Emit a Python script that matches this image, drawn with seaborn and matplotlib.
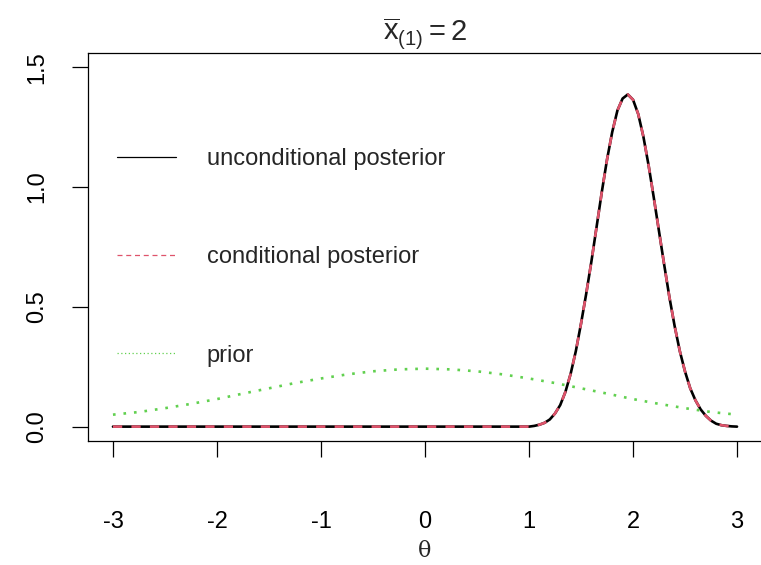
import numpy as np
import pandas as pd
import matplotlib
matplotlib.use("Agg")
import matplotlib.pyplot as plt
import seaborn as sns

# ---- data ----
theta_post = [-3.0, 1.0, 1.05, 1.1, 1.15, 1.2, 1.25, 1.3, 1.35, 1.4, 1.45, 1.5, 1.55, 1.6,
              1.65, 1.7, 1.75, 1.8, 1.85, 1.9, 1.95, 2.0, 2.05, 2.1, 2.15, 2.2, 2.25,
              2.3, 2.35, 2.4, 2.45, 2.5, 2.55, 2.6, 2.65, 2.7, 2.75, 2.8, 2.85, 2.9,
              2.95, 3.0]
uncond_post = [0.0, 0.0, 0.003, 0.008, 0.016, 0.03, 0.055, 0.09, 0.145, 0.22, 0.315, 0.43,
               0.555, 0.69, 0.835, 0.98, 1.115, 1.23, 1.32, 1.37, 1.387, 1.365, 1.305,
               1.21, 1.09, 0.955, 0.815, 0.675, 0.54, 0.42, 0.315, 0.23, 0.16, 0.11,
               0.072, 0.045, 0.025, 0.012, 0.006, 0.003, 0.001, 0.0]
cond_post = [0.0, 0.0, 0.003, 0.008, 0.016, 0.03, 0.055, 0.09, 0.145, 0.22, 0.315, 0.43,
             0.555, 0.69, 0.835, 0.98, 1.115, 1.23, 1.32, 1.37, 1.387, 1.365, 1.305,
             1.21, 1.09, 0.955, 0.815, 0.675, 0.54, 0.42, 0.315, 0.23, 0.16, 0.11,
             0.072, 0.045, 0.025, 0.012, 0.006, 0.003, 0.001, 0.0]
theta_prior = [-3.0, -2.75, -2.5, -2.25, -2.0, -1.75, -1.5, -1.25, -1.0, -0.75, -0.5, -0.25,
               0.0, 0.25, 0.5, 0.75, 1.0, 1.25, 1.5, 1.75, 2.0, 2.25, 2.5, 2.75, 3.0]
prior = [0.050, 0.061, 0.077, 0.095, 0.115, 0.138, 0.160, 0.182, 0.201, 0.218, 0.231, 0.239,
         0.242, 0.239, 0.231, 0.218, 0.201, 0.182, 0.160, 0.138, 0.115, 0.095, 0.077, 0.061, 0.050]
labels = ["unconditional posterior", "conditional posterior", "prior"]
x_ticks = [-3, -2, -1, 0, 1, 2, 3]
y_ticks = [0.0, 0.5, 1.0, 1.5]
y_tick_labels = ["0.0", "0.5", "1.0", "1.5"]

sns.set_style("white")
plt.rcParams["font.family"] = ["Liberation Sans", "DejaVu Sans"]
plt.rcParams["mathtext.fontset"] = "custom"
plt.rcParams["mathtext.rm"] = "Liberation Sans"
plt.rcParams["mathtext.it"] = "Liberation Sans:italic"

fig = plt.figure(figsize=(7.61, 5.65), dpi=100)
ax = fig.add_axes([88 / 761, 124 / 565, 674 / 761, 388 / 565])

BLACK = "#000000"
PINK = "#DF536B"
GREEN = "#61D04F"

sns.lineplot(x=theta_post, y=uncond_post, ax=ax, color=BLACK, linewidth=1.9,
             label=labels[0], estimator=None, sort=False)
sns.lineplot(x=theta_post, y=cond_post, ax=ax, color=PINK, linewidth=1.9,
             label=labels[1], estimator=None, sort=False)
ax.lines[-1].set_dashes([3.5, 3.5])
sns.lineplot(x=theta_prior, y=prior, ax=ax, color=GREEN, linewidth=1.9,
             label=labels[2], estimator=None, sort=False)
ax.lines[-1].set_dashes([1.0, 3.0])

ax.set_xlim(-3.24, 3.24)
ax.set_ylim(-0.06, 1.56)
ax.set_xticks(x_ticks)
ax.set_xticklabels([str(v) for v in x_ticks])
ax.set_yticks(y_ticks)
ax.set_yticklabels(y_tick_labels, rotation=90, va="center")

for s in ax.spines.values():
    s.set_visible(True)
    s.set_color("black")
    s.set_linewidth(0.9)

ax.tick_params(axis="both", direction="out", length=11.5, width=0.9, color="black",
               labelsize=17, labelcolor="black", bottom=True, left=True)
ax.tick_params(axis="x", pad=39)
ax.tick_params(axis="y", pad=17)

ax.set_xlabel("θ", fontsize=16, labelpad=5, family=["DejaVu Serif"])
ax.set_ylabel("")
ax.set_title(r"$\overline{\mathrm{x}}_{(1)} = 2$", fontsize=21, pad=9)

leg = ax.legend(loc="upper left", bbox_to_anchor=(0.043, 0.755), frameon=False,
                fontsize=17, handlelength=2.5, handletextpad=1.3, labelspacing=3.23,
                borderpad=0, borderaxespad=0)
for ln in leg.get_lines():
    ln.set_linewidth(0.9)
leg.get_lines()[1].set_dashes([4, 3])
leg.get_lines()[2].set_dashes([1, 2])

fig.savefig("out.png", dpi=100)
